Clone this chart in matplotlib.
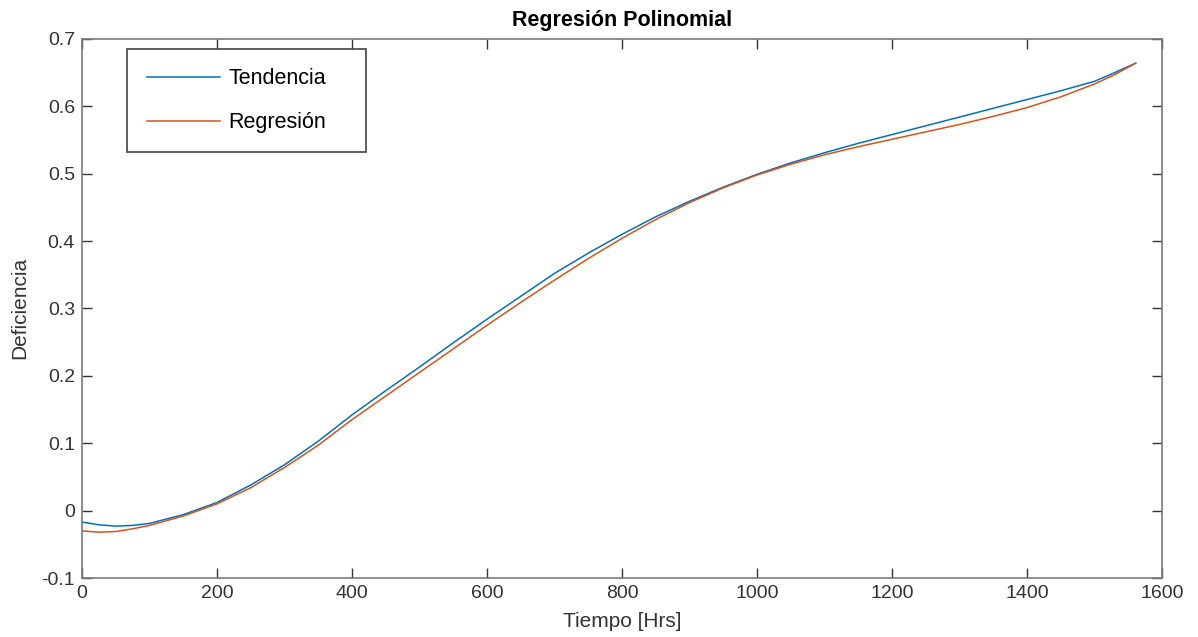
import matplotlib
matplotlib.use('Agg')
import numpy as np
import matplotlib.pyplot as plt

# valores
horas_t = [0, 25, 50, 75, 100, 150, 200, 250, 300, 350, 400, 450, 500, 550, 600, 650, 700, 750,
           800, 850, 900, 950, 1000, 1050, 1100, 1150, 1200, 1250, 1300, 1350, 1400, 1450, 1500, 1530, 1561]
tendencia = [-0.017, -0.021, -0.023, -0.022, -0.019, -0.006, 0.012, 0.038, 0.068, 0.103, 0.142, 0.178,
             0.213, 0.249, 0.284, 0.318, 0.352, 0.382, 0.410, 0.436, 0.459, 0.480, 0.499, 0.516,
             0.531, 0.545, 0.558, 0.571, 0.584, 0.597, 0.610, 0.623, 0.637, 0.650, 0.664]

horas_r = [0, 25, 50, 75, 100, 150, 200, 250, 300, 350, 400, 450, 500, 550, 600, 650, 700, 750,
           800, 850, 900, 950, 1000, 1050, 1100, 1150, 1200, 1250, 1300, 1350, 1400, 1450, 1500, 1530, 1561]
regresion = [-0.030, -0.032, -0.031, -0.027, -0.022, -0.008, 0.010, 0.034, 0.064, 0.097, 0.135, 0.170,
             0.205, 0.240, 0.275, 0.309, 0.342, 0.374, 0.404, 0.432, 0.457, 0.479, 0.498, 0.514,
             0.528, 0.540, 0.551, 0.562, 0.573, 0.585, 0.598, 0.614, 0.633, 0.647, 0.664]

plt.rcParams['font.family'] = ['Liberation Sans', 'DejaVu Sans']

fig = plt.figure(figsize=(11.98, 6.37), dpi=100)
ax = fig.add_axes([0.0684, 0.0926, 0.9016, 0.8464])

ax.plot(np.array(horas_t), np.array(tendencia), color='#0072BD', lw=1.1, label='Tendencia')
ax.plot(np.array(horas_r), np.array(regresion), color='#D95319', lw=1.1, label='Regresión')

ax.set_xlim(0, 1600)
ax.set_ylim(-0.1, 0.7)
ax.set_xticks(np.arange(0, 1601, 200))
ax.set_yticks(np.arange(-0.1, 0.71, 0.1))
ax.set_yticklabels(['-0.1', '0', '0.1', '0.2', '0.3', '0.4', '0.5', '0.6', '0.7'])

gris = '#7a7a7a'
for s in ax.spines.values():
    s.set_color(gris)
    s.set_linewidth(1.2)
ax.tick_params(direction='in', top=True, right=True, length=7, width=1, color='#333333',
               labelsize=14, labelcolor='#333333', pad=5)

ax.set_title('Regresión Polinomial', fontsize=15.5, fontweight='bold', pad=9)
ax.set_xlabel('Tiempo [Hrs]', fontsize=15, color='#333333', labelpad=7)
ax.set_ylabel('Deficiencia', fontsize=15, color='#333333', labelpad=9)

# leyenda con ancho fijo como en la original
leg = ax.legend(loc='upper left', bbox_to_anchor=(0.042, 0.5, 0.2213, 0.481), mode='expand',
                fontsize=15.5, handlelength=3.4, labelspacing=1.05, borderpad=0.9,
                handletextpad=0.4, borderaxespad=0, fancybox=False, framealpha=1,
                edgecolor='#444444')
leg.get_frame().set_linewidth(1.2)

fig.savefig('out.png', dpi=100)
